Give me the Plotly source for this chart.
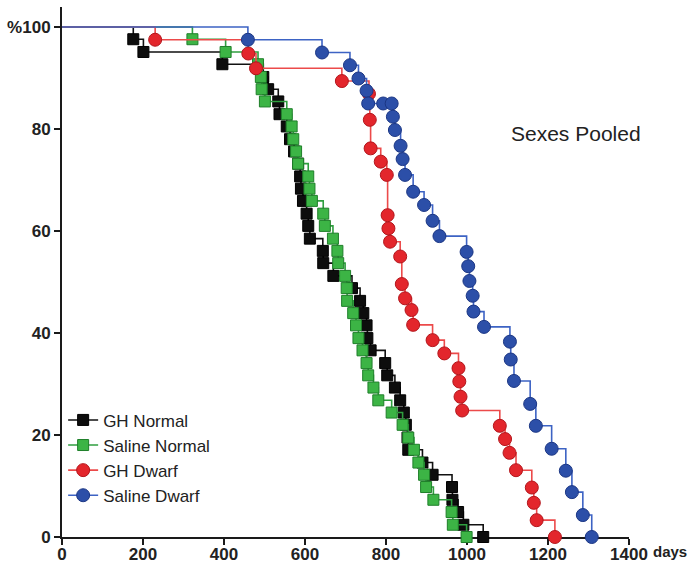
import plotly.graph_objects as go

# ---------------- data ----------------
gh_normal_days = [176, 201, 396, 497, 509, 534, 537, 555, 563, 573, 583, 588, 590, 595, 604, 608, 612,
                  644, 645, 670, 716, 736, 744, 752, 754, 762, 798, 803, 822, 835, 844, 849, 853, 855,
                  890, 915, 963, 964, 978, 991, 1040]
gh_normal_pct = [97.6, 95.1, 92.7, 90.2, 87.8, 85.4, 82.9, 80.5, 78.0, 75.6, 73.2, 70.7, 68.3, 65.9,
                 63.4, 61.0, 58.5, 56.1, 53.7, 51.2, 48.8, 46.3, 43.9, 41.5, 39.0, 36.6, 34.1, 31.7,
                 29.3, 26.8, 24.4, 22.0, 19.5, 17.1, 14.6, 12.2, 9.8, 7.3, 4.9, 2.4, 0.0]

saline_normal_days = [322, 404, 484, 491, 493, 501, 555, 567, 571, 578, 583, 608, 611, 617, 645, 649,
                      669, 680, 682, 699, 703, 704, 719, 726, 732, 742, 752, 756, 769, 781, 814, 841,
                      855, 869, 880, 894, 899, 917, 962, 965, 999]
saline_normal_pct = [97.6, 95.1, 92.7, 90.2, 87.8, 85.4, 82.9, 80.5, 78.0, 75.6, 73.2, 70.7, 68.3,
                     65.9, 63.4, 61.0, 58.5, 56.1, 53.7, 51.2, 48.8, 46.3, 43.9, 41.5, 39.0, 36.6,
                     34.1, 31.7, 29.3, 26.8, 24.4, 22.0, 19.5, 17.1, 14.6, 12.2, 9.8, 7.3, 4.9, 2.4, 0.0]

gh_dwarf_days = [230, 460, 479, 691, 758, 760, 762, 787, 802, 804, 806, 810, 835, 839, 847, 863, 867,
                 915, 944, 979, 981, 984, 988, 1081, 1094, 1105, 1121, 1160, 1165, 1172, 1217]
gh_dwarf_pct = [97.5, 94.8, 91.9, 89.4, 86.9, 81.8, 76.2, 73.6, 71.0, 63.1, 60.5, 57.9, 55.0, 49.6,
                46.8, 44.5, 41.6, 38.6, 36.0, 33.1, 30.5, 27.5, 24.8, 21.8, 19.2, 16.5, 13.1, 9.7,
                6.7, 3.3, 0.0]

saline_dwarf_days = [459, 642, 711, 732, 752, 756, 793, 814, 817, 822, 836, 841, 847, 867, 894, 915,
                     932, 999, 1003, 1006, 1014, 1016, 1042, 1106, 1108, 1116, 1156, 1170, 1209, 1244,
                     1259, 1286, 1308]
saline_dwarf_pct = [97.5, 95.0, 92.5, 89.9, 87.5, 85.0, 85.0, 85.0, 82.4, 79.8, 76.7, 74.1, 71.0,
                    67.7, 65.1, 62.0, 59.0, 55.9, 53.1, 50.2, 47.3, 44.2, 41.2, 38.3, 34.8, 30.6,
                    26.1, 21.8, 17.3, 13.0, 8.8, 4.3, 0.0]

series_names = ["GH Normal", "Saline Normal", "GH Dwarf", "Saline Dwarf"]
x_ticks = [0, 200, 400, 600, 800, 1000, 1200, 1400]
x_ticktext = ["0", "200", "400", "600", "800", "1000", "1200", "1400"]
y_ticks = [0, 20, 40, 60, 80, 100]
y_ticktext = ["0", "20", "40", "60", "80", "%100"]

# ---------------- styles ----------------
styles = [
    dict(symbol="square", size=11, fill="#0d0d0d", edge="#000000", line="#111111"),
    dict(symbol="square", size=11, fill="#3cb445", edge="#1f7f2a", line="#2f9e3f"),
    dict(symbol="circle", size=13, fill="#e3262c", edge="#b3161c", line="#ec4a4a"),
    dict(symbol="circle", size=13, fill="#2c4fa8", edge="#1b3684", line="#3d63c4"),
]
data = [
    (gh_normal_days, gh_normal_pct),
    (saline_normal_days, saline_normal_pct),
    (gh_dwarf_days, gh_dwarf_pct),
    (saline_dwarf_days, saline_dwarf_pct),
]

fig = go.Figure()
for name, (d, p), st in zip(series_names, data, styles):
    fig.add_trace(go.Scatter(
        x=[0] + d, y=[100] + p, mode="lines", line=dict(shape="hv", color=st["line"], width=1.6),
        showlegend=False, hoverinfo="skip", cliponaxis=False))
    fig.add_trace(go.Scatter(
        x=d, y=p, mode="markers", showlegend=False, cliponaxis=False,
        marker=dict(symbol=st["symbol"], size=st["size"], color=st["fill"],
                    line=dict(color=st["edge"], width=1))))
    fig.add_trace(go.Scatter(
        x=[None], y=[None], mode="lines+markers", name=name,
        line=dict(color=st["line"], width=1.6),
        marker=dict(symbol=st["symbol"], size=st["size"], color=st["fill"],
                    line=dict(color=st["edge"], width=1))))

font_family = "Liberation Sans, Arial, sans-serif"

fig.add_annotation(x=1269, y=79.2, xref="x", yref="y", text="Sexes Pooled", showarrow=False,
                   font=dict(family=font_family, size=21, color="#222222"))
fig.add_annotation(x=1400, y=0, xref="x", yref="y", text="days", showarrow=False,
                   xanchor="left", yanchor="top", xshift=22, yshift=-4,
                   font=dict(family=font_family, size=15, color="#222222", weight="bold"))

fig.update_layout(
    width=689, height=564,
    margin=dict(l=62, r=60, t=7, b=27, autoexpand=False),
    paper_bgcolor="white", plot_bgcolor="white",
    font=dict(family=font_family, color="#222222"),
    legend=dict(x=0.002, y=0.254, xanchor="left", yanchor="top",
                font=dict(family=font_family, size=17, color="#222222"),
                bgcolor="rgba(0,0,0,0)", itemwidth=30, tracegroupgap=0),
    showlegend=True,
)
fig.update_xaxes(range=[0, 1400], tickvals=x_ticks, ticktext=x_ticktext, automargin=False,
                 showline=True, linecolor="#1a1a1a", linewidth=2, ticks="outside",
                 ticklen=6, tickwidth=2, tickcolor="#1a1a1a", showgrid=False, zeroline=False,
                 ticklabelstandoff=-5,
                 tickfont=dict(family=font_family, size=17, color="#222222", weight="bold"),
                 layer="below traces")
fig.update_yaxes(range=[0, 103.92], tickvals=y_ticks, ticktext=y_ticktext, automargin=False,
                 showline=True, linecolor="#1a1a1a", linewidth=2, ticks="outside",
                 ticklen=6, tickwidth=2, tickcolor="#1a1a1a", showgrid=False, zeroline=False,
                 tickfont=dict(family=font_family, size=17, color="#222222", weight="bold"),
                 layer="below traces")

fig.write_html("out.html")
